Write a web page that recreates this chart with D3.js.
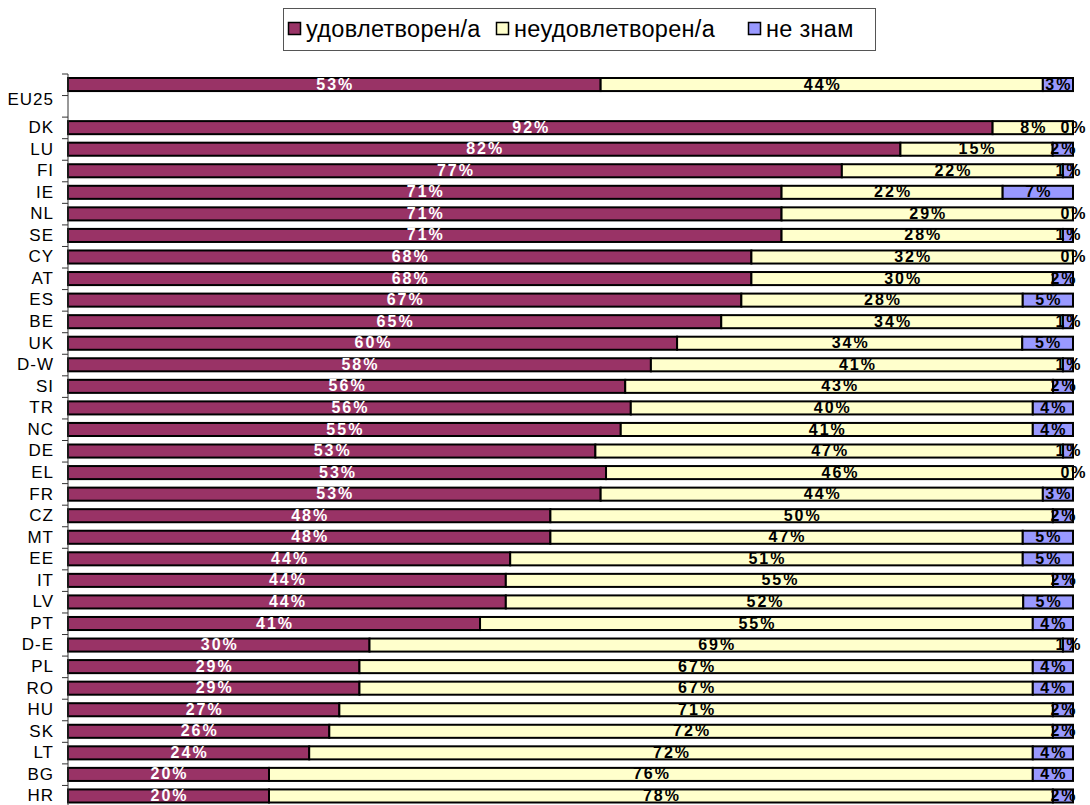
<!DOCTYPE html>
<html>
<head>
<meta charset="utf-8">
<script src="https://cdn.jsdelivr.net/npm/d3@7"></script>
<style>
  body { margin: 0; background: #fff; }
  svg { display: block; font-family: Arial, "Liberation Sans", sans-serif; }
</style>
</head>
<body>
<div class="visArea"></div>
<script>
// Chart data (percentages as printed on the bars)
var countries = ['EU25', ' ', 'DK', 'LU', 'FI', 'IE', 'NL', 'SE', 'CY', 'AT', 'ES', 'BE', 'UK', 'D-W', 'SI', 'TR',
  'NC', 'DE', 'EL', 'FR', 'CZ', 'MT', 'EE', 'IT', 'LV', 'PT', 'D-E', 'PL', 'RO', 'HU', 'SK', 'LT', 'BG', 'HR'];
var satisfied    = [53, null, 92, 82, 77, 71, 71, 71, 68, 68, 67, 65, 60, 58, 56, 56, 55, 53, 53, 53, 48, 48, 44, 44, 44, 41, 30, 29, 29, 27, 26, 24, 20, 20];
var dissatisfied = [44, null,  8, 15, 22, 22, 29, 28, 32, 30, 28, 34, 34, 41, 43, 40, 41, 47, 46, 44, 50, 47, 51, 55, 52, 55, 69, 67, 67, 71, 72, 72, 76, 78];
var dontKnow     = [ 3, null,  0,  2,  1,  7,  0,  1,  0,  2,  5,  1,  5,  1,  2,  4,  4,  1,  0,  3,  2,  5,  5,  2,  5,  4,  1,  4,  4,  2,  2,  4,  4,  2];
var seriesNames = ['удовлетворен/а', 'неудовлетворен/а', 'не знам'];
var seriesKeys = ['sat', 'unsat', 'dk'];
var seriesColors = ['#993366', '#FFFFCC', '#9999FF'];
var labelColors = ['#fff', '#000', '#000'];

var width = 1090;
var height = 805;

var rows = countries.map(function(c, i) {
  return {country: c, sat: satisfied[i], unsat: dissatisfied[i], dk: dontKnow[i]};
});
var dataRows = rows.filter(d => d.sat !== null);

var svg = d3.select('.visArea')
  .append('svg')
  .attr('width', width)
  .attr('height', height);

// Scales
var x = d3.scaleLinear().domain([0, 1]).range([68, 1073]);
var y = d3.scaleBand().domain(countries).range([74, 807]).padding(0);

var stacked = d3.stack()
  .keys(seriesKeys)
  .offset(d3.stackOffsetExpand)(dataRows);

// Bars
var groups = svg.selectAll('g.series')
  .data(stacked)
  .enter()
  .append('g')
  .attr('class', 'series')
  .attr('fill', (d, i) => seriesColors[i]);

groups.selectAll('rect')
  .data(d => d)
  .enter()
  .append('rect')
  .attr('x', d => x(d[0]))
  .attr('width', d => x(d[1]) - x(d[0]))
  .attr('y', d => y(d.data.country) + 4)
  .attr('height', y.bandwidth() - 8.5)
  .attr('stroke', '#000')
  .attr('stroke-width', 2);

// Value labels
stacked.forEach(function(layer, i) {
  svg.append('g')
    .selectAll('text')
    .data(layer)
    .enter()
    .append('text')
    .attr('x', d => (x(d[0]) + x(d[1])) / 2 + 1)
    .attr('y', d => y(d.data.country) + y.bandwidth() - 6)
    .attr('text-anchor', 'middle')
    .attr('font-size', 16)
    .attr('font-weight', 'bold')
    .attr('letter-spacing', 2)
    .attr('fill', labelColors[i])
    .text(d => d.data[seriesKeys[i]] + '%');
});

// Axis
var axis = svg.append('g')
  .attr('transform', 'translate(68,0)')
  .call(d3.axisLeft(y).tickSize(0).tickPadding(14));
axis.select('.domain').remove();
axis.selectAll('text')
  .attr('font-size', 17)
  .attr('letter-spacing', 1)
  .attr('font-family', 'Arial, "Liberation Sans", sans-serif')
  .attr('fill', '#000')
  .attr('dy', d => d === 'EU25' ? '1.2em' : '0.3em');

svg.append('line')
  .attr('x1', 68).attr('x2', 68)
  .attr('y1', y.range()[0]).attr('y2', y.range()[1])
  .attr('stroke', '#333');

var boundaries = countries.map(c => y(c)).concat([y.range()[1]]);
svg.append('g')
  .selectAll('line')
  .data(boundaries)
  .enter()
  .append('line')
  .attr('x1', 62).attr('x2', 68)
  .attr('y1', d => d).attr('y2', d => d)
  .attr('stroke', '#333');

// Legend
var legend = svg.append('g');
legend.append('rect')
  .attr('x', 283.5).attr('y', 8.5)
  .attr('width', 592).attr('height', 42)
  .attr('fill', '#fff')
  .attr('stroke', '#555');

var legendX = [288, 496, 748];
seriesNames.forEach(function(name, i) {
  legend.append('rect')
    .attr('x', legendX[i] + 0.5).attr('y', 22.5)
    .attr('width', 12).attr('height', 12)
    .attr('fill', seriesColors[i])
    .attr('stroke', '#000')
    .attr('stroke-width', 1.5);
  legend.append('text')
    .attr('x', legendX[i] + 18)
    .attr('y', 37)
    .attr('font-size', 23.5)
    .attr('letter-spacing', 0.3)
    .attr('fill', '#000')
    .text(name);
});
</script>
</body>
</html>
